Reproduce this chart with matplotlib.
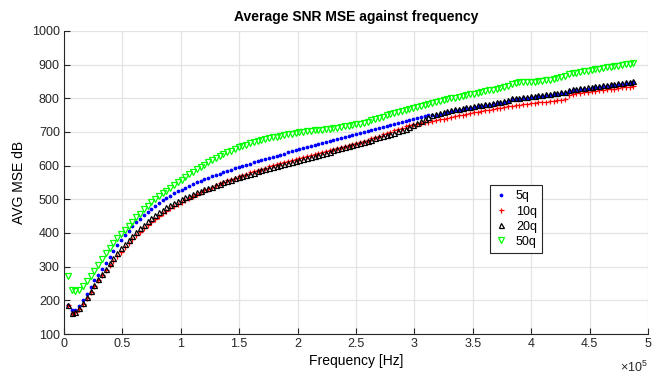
#%% - libs
import numpy as np
import matplotlib
matplotlib.use("Agg")
import matplotlib.pyplot as plt
from matplotlib.ticker import FuncFormatter

#%% - donnees, un point tous les 3250 Hz
pas_freq = 3250

snr_5q = [186, 172, 172, 183, 200, 220, 240, 259, 276, 293,
          312, 330, 347, 363, 379, 393, 407, 420, 432, 443,
          453, 463, 472, 481, 489, 497, 504, 511, 518, 524,
          529, 535, 540, 545, 550, 555, 560, 564, 568, 572,
          576, 580, 584, 588, 592, 596, 599, 603, 606, 610,
          613, 617, 620, 623, 627, 630, 633, 636, 639, 642,
          645, 648, 651, 654, 657, 660, 663, 666, 669, 672,
          675, 678, 681, 684, 687, 690, 693, 696, 699, 702,
          705, 708, 711, 714, 717, 720, 723, 726, 729, 732,
          735, 738, 741, 744, 747, 749, 749, 751, 754, 757,
          759, 762, 764, 766, 768, 770, 772, 774, 776, 778,
          779, 781, 783, 785, 787, 789, 791, 797, 798, 799,
          800, 802, 803, 805, 806, 808, 809, 811, 812, 814,
          815, 816, 822, 824, 825, 827, 828, 829, 831, 832,
          834, 835, 837, 838, 840, 841, 843, 844, 846, 848]

snr_10q = [186, 161, 164, 174, 190, 208, 226, 244, 259, 274,
           289, 304, 318, 332, 345, 358, 370, 382, 393, 404,
           414, 424, 433, 442, 450, 458, 466, 473, 480, 487,
           493, 499, 505, 511, 516, 522, 527, 532, 537, 542,
           547, 551, 556, 560, 564, 568, 572, 576, 580, 584,
           587, 591, 594, 598, 601, 605, 608, 611, 614, 617,
           620, 623, 626, 629, 632, 635, 638, 641, 644, 647,
           650, 653, 656, 659, 662, 665, 668, 671, 674, 677,
           681, 685, 689, 693, 697, 701, 705, 709, 713, 717,
           720, 723, 725, 727, 729, 731, 733, 735, 737, 739,
           742, 744, 747, 749, 751, 753, 756, 758, 760, 762,
           764, 766, 768, 770, 772, 774, 776, 778, 779, 780,
           782, 783, 785, 786, 788, 789, 790, 791, 793, 794,
           795, 797, 810, 813, 815, 817, 818, 820, 821, 823,
           824, 825, 827, 828, 829, 830, 832, 833, 834, 836]

snr_20q = [186, 163, 166, 176, 192, 210, 228, 246, 262, 278,
           294, 310, 325, 340, 354, 367, 380, 392, 404, 415,
           425, 435, 444, 453, 461, 469, 476, 483, 489, 495,
           501, 506, 511, 516, 521, 526, 530, 534, 538, 542,
           546, 550, 554, 558, 562, 565, 569, 572, 576, 579,
           583, 586, 589, 592, 595, 599, 602, 605, 608, 611,
           614, 617, 620, 623, 626, 629, 632, 635, 638, 641,
           645, 648, 651, 655, 658, 661, 664, 667, 671, 674,
           677, 681, 684, 688, 691, 695, 698, 702, 706, 710,
           715, 721, 727, 733, 739, 745, 750, 754, 757, 760,
           762, 765, 767, 769, 771, 773, 775, 777, 779, 781,
           782, 784, 786, 788, 790, 792, 794, 800, 801, 802,
           803, 805, 806, 808, 809, 811, 812, 814, 815, 817,
           818, 819, 825, 827, 828, 830, 831, 832, 834, 835,
           837, 838, 840, 841, 843, 844, 846, 847, 849, 851]

snr_50q = [272, 232, 227, 231, 243, 257, 271, 288, 305, 323,
           340, 355, 370, 384, 397, 410, 422, 434, 446, 457,
           470, 481, 491, 500, 509, 518, 526, 534, 542, 550,
           558, 566, 574, 582, 589, 596, 603, 610, 616, 622,
           628, 634, 639, 644, 649, 654, 658, 662, 666, 669,
           672, 675, 678, 681, 684, 686, 689, 691, 693, 695,
           697, 699, 700, 702, 703, 705, 706, 707, 709, 710,
           712, 713, 715, 717, 719, 721, 723, 725, 727, 730,
           735, 738, 742, 745, 749, 752, 756, 759, 762, 766,
           769, 772, 775, 778, 781, 784, 787, 790, 792, 795,
           797, 800, 802, 805, 807, 810, 812, 814, 817, 819,
           821, 824, 826, 829, 831, 834, 836, 843, 846, 847,
           847, 848, 848, 849, 850, 851, 853, 855, 857, 860,
           862, 865, 871, 874, 876, 878, 880, 882, 884, 886,
           888, 890, 892, 894, 896, 897, 899, 901, 902, 904]

labels = ['5q', '10q', '20q', '50q']

freq = pas_freq * np.arange(1, len(snr_5q) + 1)

#%% - figure
plt.rcParams['font.family'] = ['Liberation Sans', 'DejaVu Sans']
plt.rcParams['mathtext.fontset'] = 'custom'
plt.rcParams['mathtext.rm'] = 'Liberation Sans'

fig = plt.figure(figsize=(6.62, 3.77), dpi=100)
ax = fig.add_axes([0.0967, 0.114, 0.882, 0.804])

ax.plot(freq, snr_5q, linestyle='none', marker='.', markersize=3.4,
        color='#0000ff', label=labels[0])
ax.plot(freq, snr_10q, linestyle='none', marker='+', markersize=3.6,
        markeredgewidth=0.9, color='#ff0000', label=labels[1])
ax.plot(freq, snr_20q, linestyle='none', marker='^', markersize=3.6,
        markerfacecolor='none', markeredgewidth=0.9, color='black', label=labels[2])
ax.plot(freq, snr_50q, linestyle='none', marker='v', markersize=4.0,
        markerfacecolor='none', markeredgewidth=0.9, color='#00ff00', label=labels[3])

ax.set_xlim(0, 5e5)
ax.set_ylim(100, 1000)
ax.set_xticks(np.arange(0, 5.01e5, 0.5e5))
ax.set_yticks(np.arange(100, 1001, 100))
ax.xaxis.set_major_formatter(FuncFormatter(lambda v, p: '%g' % (v / 1e5)))

ax.grid(True, color='#e3e3e3', linewidth=0.9)
ax.set_axisbelow(True)
for s in ['top', 'right']:
    ax.spines[s].set_visible(False)
for s in ['left', 'bottom']:
    ax.spines[s].set_color('#262626')
    ax.spines[s].set_linewidth(0.8)
ax.tick_params(direction='in', length=4, width=0.8, colors='#262626',
               labelsize=9, pad=3)

ax.set_title('Average SNR MSE against frequency', fontsize=10,
             fontweight='bold', pad=7)
ax.set_xlabel('Frequency [Hz]', fontsize=10, labelpad=3)
ax.set_ylabel('AVG MSE dB', fontsize=10, labelpad=4)
ax.text(1.0, -0.085, r'$\times10^{5}$', transform=ax.transAxes,
        ha='right', va='top', fontsize=9, color='#262626')

leg = ax.legend(loc='upper left', bbox_to_anchor=(0.729, 0.49), fontsize=9,
                fancybox=False, framealpha=1, edgecolor='#262626',
                handlelength=1.0, handletextpad=0.7, borderpad=0.4,
                labelspacing=0.25, borderaxespad=0)
leg.get_frame().set_linewidth(0.8)

fig.savefig('out.png', dpi=100)
